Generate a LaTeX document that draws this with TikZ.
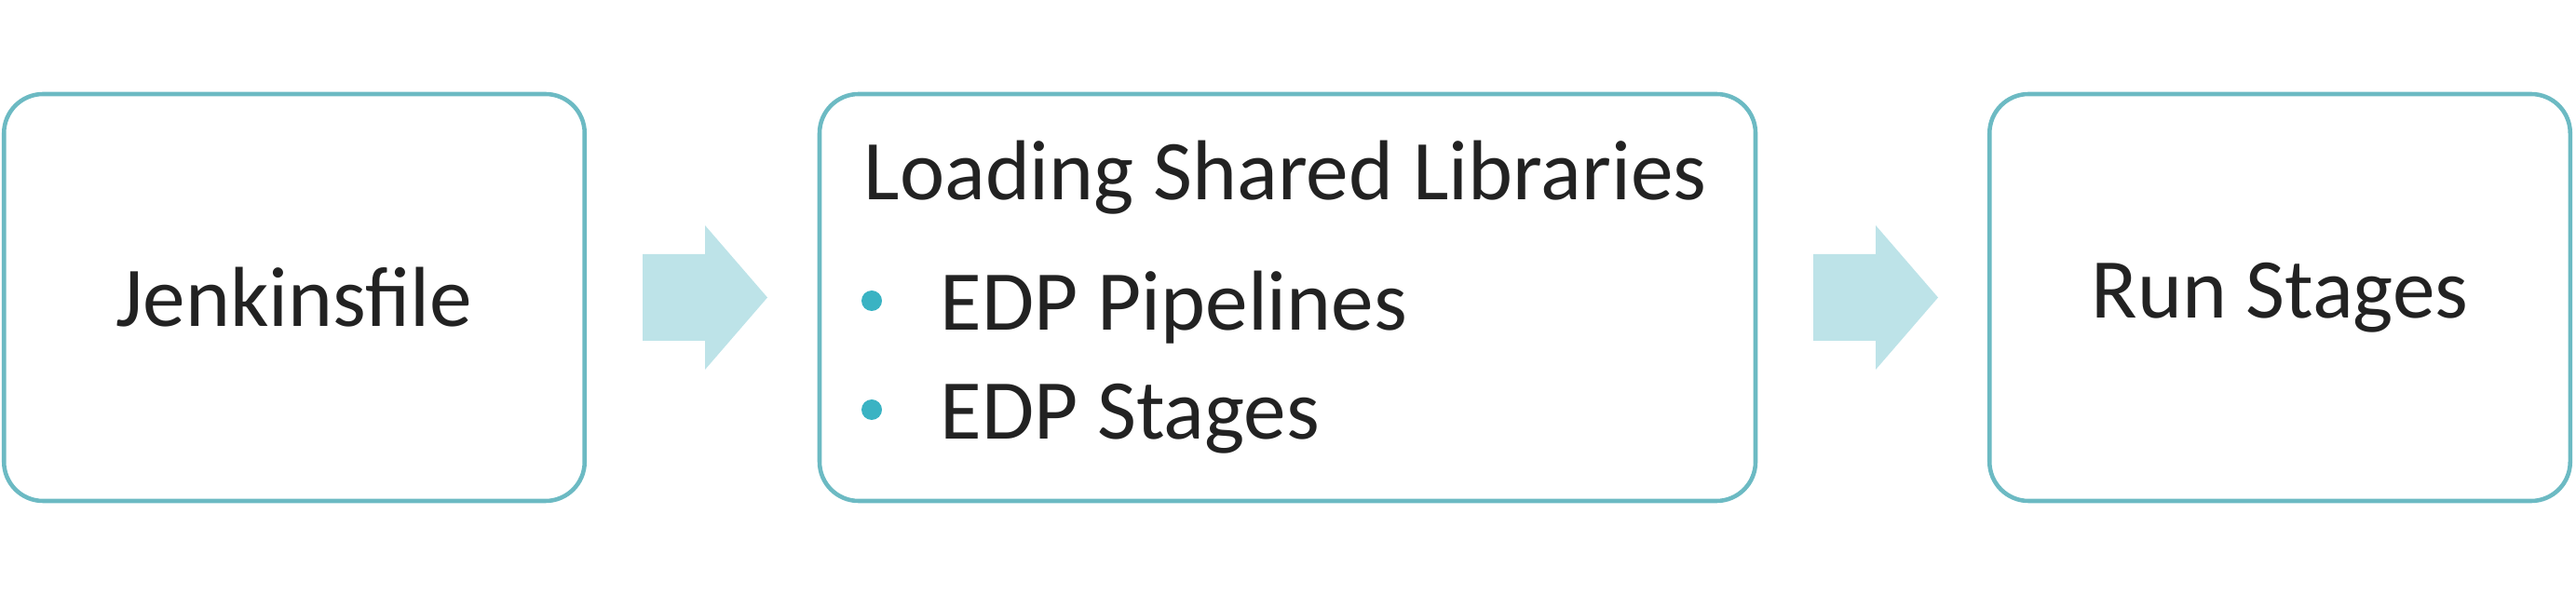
\documentclass[tikz,border=0pt]{standalone}
\usepackage{fontspec}
\setmainfont{Carlito}
\usepackage{tikz}
\usetikzlibrary{positioning, calc}
\definecolor{boxline}{HTML}{6CBAC3}
\definecolor{arrowfill}{HTML}{BDE3E8}
\definecolor{bulletblue}{HTML}{3AB3C3}
\definecolor{textgray}{HTML}{222222}
\tikzset{
	stagenode/.style={
			shape=rectangle,
			draw=boxline,
			line width=1.3pt,
			rounded corners=0.42cm,
			minimum height=4.37cm,
			inner sep=0pt,
			font=\fontsize{26}{31}\selectfont\color{textgray}
		},
	flowarrow/.style={
			fill=arrowfill,
			draw=none
		},
	itemtext/.style={
			anchor=base west,
			inner sep=0pt,
			font=\fontsize{26}{31}\selectfont\color{textgray}
		},
	itembullet/.style={
			circle,
			fill=bulletblue,
			minimum size=0.22cm,
			inner sep=0pt
		}
}

\begin{document}
\begin{tikzpicture}
	\useasboundingbox (0,0) rectangle (27.66,6.38);

	\node[stagenode, minimum width=6.235cm] (jenkins) at (3.16,3.185) {Jenkinsfile};
	\node[stagenode, minimum width=10.05cm] (loading) at (13.825,3.185) {};
	\node[stagenode, minimum width=6.235cm] (run) at (24.48,3.185) {Run Stages};

	\node[itemtext] (title) at (9.27,4.23) {Loading Shared Libraries};
	\node[itembullet] (b1) at (9.36,3.15) {};
	\node[itemtext] (pipelines) at (10.09,2.83) {EDP Pipelines};
	\node[itembullet] (b2) at (9.36,1.98) {};
	\node[itemtext] (stages) at (10.09,1.66) {EDP Stages};

	\coordinate (a1) at (7.57,3.185);
	\coordinate (a2) at (20.14,3.185);

	\fill[flowarrow] (a1) ++(-0.67,0.465) -- ++(0.67,0) -- ++(0,0.31) -- ++(0.67,-0.775)
		-- ++(-0.67,-0.775) -- ++(0,0.31) -- ++(-0.67,0) -- cycle;
	\fill[flowarrow] (a2) ++(-0.67,0.465) -- ++(0.67,0) -- ++(0,0.31) -- ++(0.67,-0.775)
		-- ++(-0.67,-0.775) -- ++(0,0.31) -- ++(-0.67,0) -- cycle;

\end{tikzpicture}
\end{document}
